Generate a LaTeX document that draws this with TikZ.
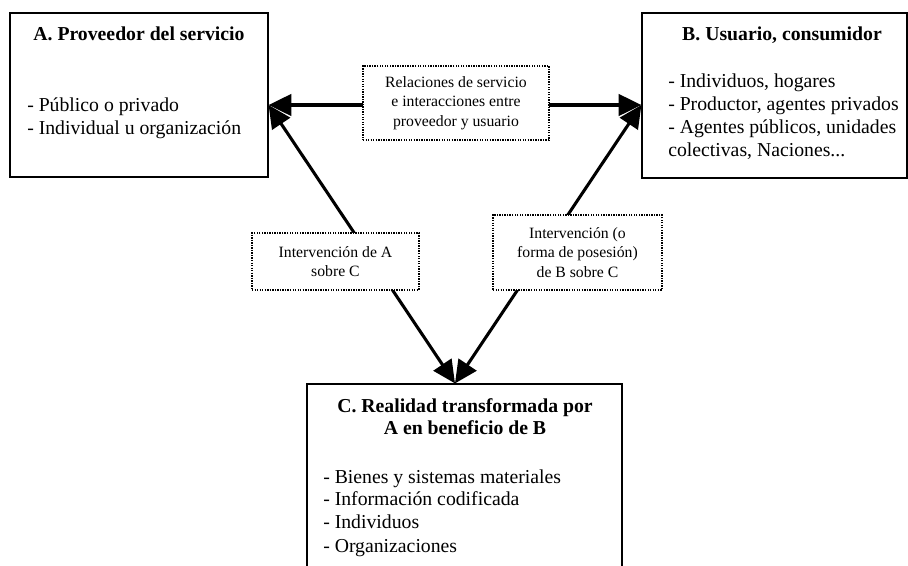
\documentclass[tikz,border=0pt]{standalone}
\usepackage{fontspec}
\setmainfont{Liberation Serif}
\usetikzlibrary{arrows.meta}
\begin{document}
\begin{tikzpicture}[x=0.75pt,y=-0.75pt,
  panel/.style={draw, line width=0.9pt, inner sep=0pt},
  ttl/.style={anchor=base, inner sep=0pt, font=\fontsize{14.8pt}{17pt}\selectfont\bfseries},
  itm/.style={anchor=base west, inner sep=0pt, font=\fontsize{14.8pt}{17pt}\selectfont},
  tag/.style={draw, fill=white, line width=0.8pt, dash pattern=on 1pt off 0.9pt,
    align=center, inner sep=0pt, font=\fontsize{11.8pt}{14.6pt}\selectfont},
  link/.style={line width=2.3pt, {Triangle[length=17pt,width=16pt]}-{Triangle[length=17pt,width=16pt]}}]
\useasboundingbox (0,0) rectangle (908,565);
\clip (0,0) rectangle (908,565);

% the three main boxes
\node[panel, minimum width=193.5pt, minimum height=123pt] (A) at (139,95) {};
\node[panel, minimum width=198.75pt, minimum height=123.75pt] (B) at (774.5,95.5) {};
\node[panel, minimum width=236.25pt, minimum height=147pt] (C) at (464.5,482) {};

% box A text
\node[ttl] (At) at (139,40) {A. Proveedor del servicio};
\node[itm] (A1) at (27,111) {- Público o privado};
\node[itm] (A2) at (27,134) {- Individual u organización};

% box B text
\node[ttl] (Bt) at (782,40) {B. Usuario, consumidor};
\node[itm] (B1) at (668,87) {- Individuos, hogares};
\node[itm] (B2) at (668,110) {- Productor, agentes privados};
\node[itm] (B3) at (668,133) {- Agentes públicos, unidades};
\node[itm] (B4) at (668,156) {colectivas, Naciones...};

% box C text
\node[ttl] (Ct1) at (465,412) {C. Realidad transformada por};
\node[ttl] (Ct2) at (465,434) {A en beneficio de B};
\node[itm] (C1) at (323,483) {- Bienes y sistemas materiales};
\node[itm] (C2) at (323,505) {- Información codificada};
\node[itm] (C3) at (323,528) {- Individuos};
\node[itm] (C4) at (323,552) {- Organizaciones};

% arrow end points on the box borders
\coordinate (rowy) at (0,105);
\coordinate (colx) at (455,0);
\coordinate (pA) at (A.east |- rowy);
\coordinate (pB) at (B.west |- rowy);
\coordinate (pC) at (C.north -| colx);

% connectors
\draw[link] (pA) -- (pB);
\draw[link] (pA) -- (pC);
\draw[link] (pB) -- (pC);

% labels sitting on the connectors
\node[tag, minimum width=139.5pt, minimum height=55.5pt] (L1) at (456,103)
  {Relaciones de servicio\\e interacciones entre\\proveedor y usuario};
\node[tag, minimum width=125.25pt, minimum height=42.75pt] (L2) at (335.5,261.5)
  {Intervención de A\\sobre C};
\node[tag, minimum width=126.75pt, minimum height=56.25pt] (L3) at (577.5,252.5)
  {Intervención (o\\forma de posesión)\\de B sobre C};
\end{tikzpicture}
\end{document}
